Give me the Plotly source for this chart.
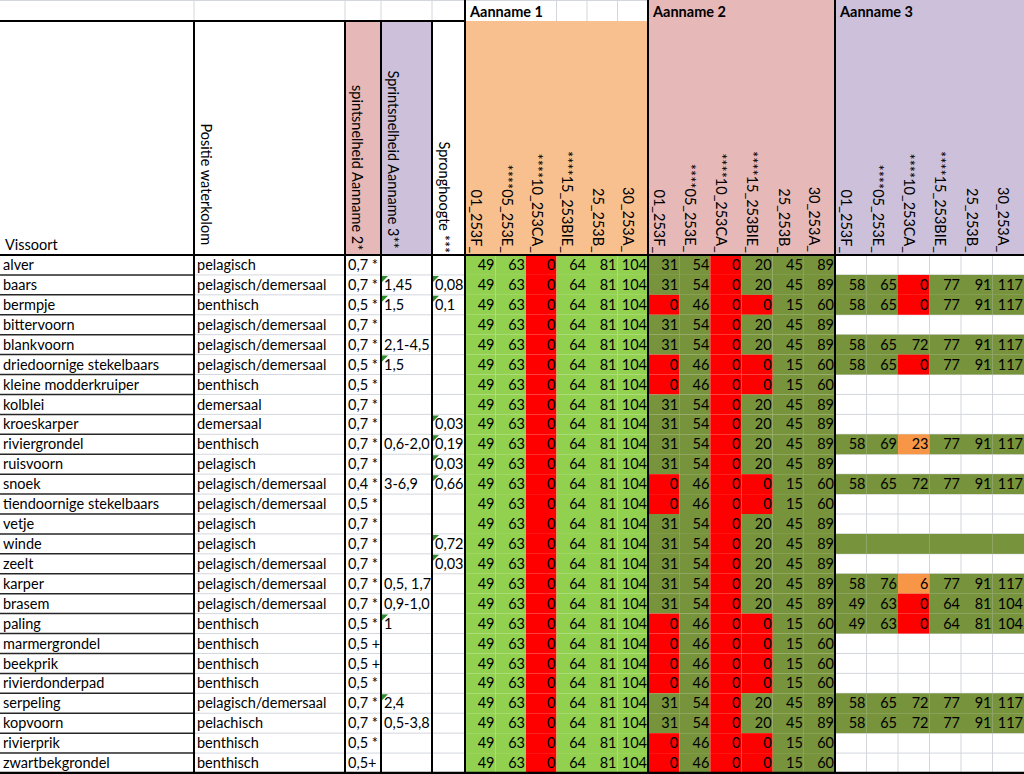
import plotly.graph_objects as go

# ---- data (read from the spreadsheet) ----
vissoort = ["alver", "baars", "bermpje", "bittervoorn", "blankvoorn",
            "driedoornige stekelbaars", "kleine modderkruiper", "kolblei",
            "kroeskarper", "riviergrondel", "ruisvoorn", "snoek",
            "tiendoornige stekelbaars", "vetje", "winde", "zeelt", "karper",
            "brasem", "paling", "marmergrondel", "beekprik", "rivierdonderpad",
            "serpeling", "kopvoorn", "rivierprik", "zwartbekgrondel"]

positie = ["pelagisch", "pelagisch/demersaal", "benthisch", "pelagisch/demersaal",
           "pelagisch/demersaal", "pelagisch/demersaal", "benthisch", "demersaal",
           "demersaal", "benthisch", "pelagisch", "pelagisch/demersaal",
           "pelagisch/demersaal", "pelagisch", "pelagisch", "pelagisch/demersaal",
           "pelagisch/demersaal", "pelagisch/demersaal", "benthisch", "benthisch",
           "benthisch", "benthisch", "pelagisch/demersaal", "pelachisch",
           "benthisch", "benthisch"]

sprint_a2 = ["0,7 *", "0,7 *", "0,5 *", "0,7 *", "0,7 *", "0,5 *", "0,5 *", "0,7 *",
             "0,7 *", "0,7 *", "0,7 *", "0,4 *", "0,5 *", "0,7 *", "0,7 *", "0,7 *",
             "0,7 *", "0,7 *", "0,5 *", "0,5 +", "0,5 +", "0,5 *", "0,7 *", "0,7 *",
             "0,5 *", "0,5+"]

sprint_a3 = ["", "1,45", "1,5", "", "2,1-4,5", "1,5", "", "", "", "0,6-2,0", "",
             "3-6,9", "", "", "", "", "0,5, 1,7", "0,9-1,0", "1", "", "", "",
             "2,4", "0,5-3,8", "", ""]

spronghoogte = ["", "0,08", "0,1", "", "", "", "", "", "0,03", "0,19", "0,03",
                "0,66", "", "", "0,72", "0,03", "", "", "", "", "", "", "", "",
                "", ""]

# cells that carry a comment marker
opmerking_a3 = [0, 1, 1, 0, 0, 1, 0, 0, 0, 0, 0, 0, 0, 0, 0, 0, 0, 0, 1, 0, 0, 0,
                1, 0, 0, 0]
opmerking_sprong = [0, 1, 1, 0, 0, 0, 0, 0, 1, 1, 1, 1, 0, 0, 1, 1, 0, 0, 0, 0,
                    0, 0, 0, 0, 0, 0]

stations = ["01_253F_", "****05_253E_", "****10_253CA_", "****15_253BIE_",
            "25_253B_", "30_253A_"]
aannames = ["Aanname 1", "Aanname 2", "Aanname 3"]

a1 = [49, 63, 0, 64, 81, 104]
a2_hoog = [31, 54, 0, 20, 45, 89]
a2_laag = [0, 46, 0, 0, 15, 60]
a3_hoog = [58, 65, 72, 77, 91, 117]
a3_nul = [58, 65, 0, 77, 91, 117]
a3_rg = [58, 69, 23, 77, 91, 117]
a3_karper = [58, 76, 6, 77, 91, 117]
a3_laag = [49, 63, 0, 64, 81, 104]
leeg = [None] * 6
gevuld = [""] * 6  # filled row without values (winde)

aanname1 = [a1] * 26
aanname2 = [a2_hoog, a2_hoog, a2_laag, a2_hoog, a2_hoog, a2_laag, a2_laag, a2_hoog,
            a2_hoog, a2_hoog, a2_hoog, a2_laag, a2_laag, a2_hoog, a2_hoog, a2_hoog,
            a2_hoog, a2_hoog, a2_laag, a2_laag, a2_laag, a2_laag, a2_hoog, a2_hoog,
            a2_laag, a2_laag]
aanname3 = [leeg, a3_nul, a3_nul, leeg, a3_hoog, a3_nul, leeg, leeg, leeg, a3_rg,
            leeg, a3_hoog, leeg, leeg, gevuld, leeg, a3_karper, a3_laag, a3_laag,
            leeg, leeg, leeg, a3_hoog, a3_hoog, leeg, leeg]

# ---- layout geometry ----
W, H = 1024, 774
kolommen = [0, 194, 345, 381, 432, 465]
blok_x = [465, 648, 835, 1024]
Y1, Y2, YB = 21, 255, 773
n = len(vissoort)
rh = (YB - Y2) / n

FONT = "Lato"
FS = 14.5
GRID = "#D4D6DE"
GROEN_L = "#92D050"
OLIJF = "#77933C"
ROOD = "#FF0000"
ORANJE = "#F79646"
PERZIK = "#F9C08F"
ROZE = "#E6B8B7"
LILA = "#CCC0DA"


def cel_x(b, j):
    w = (blok_x[b + 1] - blok_x[b]) / 6
    return blok_x[b] + j * w, blok_x[b] + (j + 1) * w


def kleur(b, v):
    if v is None:
        return None
    if v == "":
        return OLIJF
    if v == 0:
        return ROOD
    if b == 0:
        return GROEN_L
    if b == 2 and v < 30:
        return ORANJE
    return OLIJF


shapes = []


def rect(x0, y0, x1, y1, fill):
    shapes.append(dict(type="rect", x0=x0, y0=y0, x1=x1, y1=y1, fillcolor=fill,
                       line=dict(width=0), layer="below"))


def lijn(x0, y0, x1, y1, color="black", width=2):
    shapes.append(dict(type="line", x0=x0, y0=y0, x1=x1, y1=y1,
                       line=dict(color=color, width=width), layer="above"))


# light grid first
for x in kolommen[1:5]:
    shapes.append(dict(type="line", x0=x, x1=x, y0=0, y1=Y1,
                       line=dict(color=GRID, width=1), layer="below"))
shapes.append(dict(type="line", x0=0, x1=W, y0=0.5, y1=0.5,
                   line=dict(color=GRID, width=1), layer="below"))
for j in range(3, 6):
    x = cel_x(0, j)[0]
    shapes.append(dict(type="line", x0=x, x1=x, y0=0, y1=Y1,
                       line=dict(color=GRID, width=1), layer="below"))
for i in range(1, n):
    y = Y2 + i * rh
    shapes.append(dict(type="line", x0=kolommen[1], x1=kolommen[5], y0=y, y1=y,
                       line=dict(color=GRID, width=1), layer="below"))
    shapes.append(dict(type="line", x0=blok_x[2], x1=W, y0=y, y1=y,
                       line=dict(color=GRID, width=1), layer="below"))
for j in range(1, 6):
    x = cel_x(2, j)[0]
    shapes.append(dict(type="line", x0=x, x1=x, y0=Y2, y1=YB,
                       line=dict(color=GRID, width=1), layer="below"))

# header fills
rect(kolommen[2], Y1, kolommen[3], Y2, ROZE)
rect(kolommen[3], Y1, kolommen[4], Y2, LILA)
rect(blok_x[0], Y1, blok_x[1], Y2, PERZIK)
rect(blok_x[1], 0, blok_x[2], Y2, ROZE)
rect(blok_x[2], 0, blok_x[3], Y2, LILA)

# data cell fills
for b, blok in enumerate([aanname1, aanname2, aanname3]):
    for i, rij in enumerate(blok):
        for j, v in enumerate(rij):
            c = kleur(b, v)
            if c:
                x0, x1 = cel_x(b, j)
                rect(x0, Y2 + i * rh, x1, Y2 + (i + 1) * rh, c)

# comment markers
for kol, vlag in [(3, opmerking_a3), (4, opmerking_sprong)]:
    for i, f in enumerate(vlag):
        if f:
            x0 = kolommen[kol] + 1
            y0 = Y2 + i * rh + 1
            shapes.append(dict(type="path",
                               path=f"M {x0},{y0} L {x0 + 6},{y0} L {x0},{y0 + 6} Z",
                               fillcolor="#2E8B2E", line=dict(width=0), layer="above"))

# black borders
for i in range(1, n):
    y = Y2 + i * rh
    lijn(0, y, kolommen[1], y, "#262626", 1.5)
for x in kolommen[1:]:
    lijn(x, Y1, x, YB)
for x in blok_x[1:3]:
    lijn(x, 0, x, YB)
lijn(blok_x[0], 0, blok_x[0], Y1)
lijn(0, Y1, kolommen[5], Y1)
lijn(0, Y2, W, Y2)
lijn(0, YB, W, YB, width=2.5)

fig = go.Figure()

# text sits a little below the geometric middle of each row, as in Excel
ymid = [Y2 + (i + 0.5) * rh + 1.5 for i in range(n)]
tf = dict(family=FONT, size=FS, color="black")

# left-aligned text columns
for kol, teksten in [(0, vissoort), (1, positie), (2, sprint_a2),
                     (3, sprint_a3), (4, spronghoogte)]:
    fig.add_trace(go.Scatter(x=[kolommen[kol] + 3] * n, y=ymid, text=teksten,
                             mode="text", textposition="middle right",
                             textfont=tf, hoverinfo="skip", showlegend=False))

# right-aligned numbers
for b, blok in enumerate([aanname1, aanname2, aanname3]):
    xs, ys, ts = [], [], []
    for i, rij in enumerate(blok):
        for j, v in enumerate(rij):
            if v is None or v == "":
                continue
            xs.append(cel_x(b, j)[1] - 1)
            ys.append(ymid[i])
            ts.append(str(v))
    fig.add_trace(go.Scatter(x=xs, y=ys, text=ts, mode="text",
                             textposition="middle left", textfont=tf,
                             hoverinfo="skip", showlegend=False))

ann = []
ann.append(dict(x=3, y=Y2, text="Vissoort", xanchor="left", yanchor="bottom",
                showarrow=False, font=tf))
koppen = [(1, "Positie waterkolom", 247), (2, "spintsnelheid Aanname 2*", 252),
          (3, "Sprintsnelheid Aanname 3**", 250), (4, "Spronghoogte ***", 255)]
for kol, t, yb in koppen:
    ann.append(dict(x=kolommen[kol] + 2, y=yb, text=t, textangle=90,
                    xanchor="left", yanchor="bottom", showarrow=False, font=tf))
for b, naam in enumerate(aannames):
    ann.append(dict(x=blok_x[b] + 2, y=Y1 / 2 + 0.5, text=f"<b>{naam}</b>",
                    xanchor="left", yanchor="middle", showarrow=False,
                    font=dict(family=FONT, size=FS, color="black")))
    for j, s in enumerate(stations):
        ann.append(dict(x=cel_x(b, j)[0] + 1, y=Y2, text=s, textangle=90,
                        xanchor="left", yanchor="bottom", showarrow=False, font=tf))

fig.update_layout(
    width=W, height=H,
    margin=dict(l=0, r=0, t=0, b=0),
    paper_bgcolor="white", plot_bgcolor="white",
    xaxis=dict(range=[0, W], visible=False, fixedrange=True),
    yaxis=dict(range=[H, 0], visible=False, fixedrange=True),
    shapes=shapes, annotations=ann,
)

fig.write_html("out.html", config={"displayModeBar": False},
               post_script="document.body.style.margin='0';")
